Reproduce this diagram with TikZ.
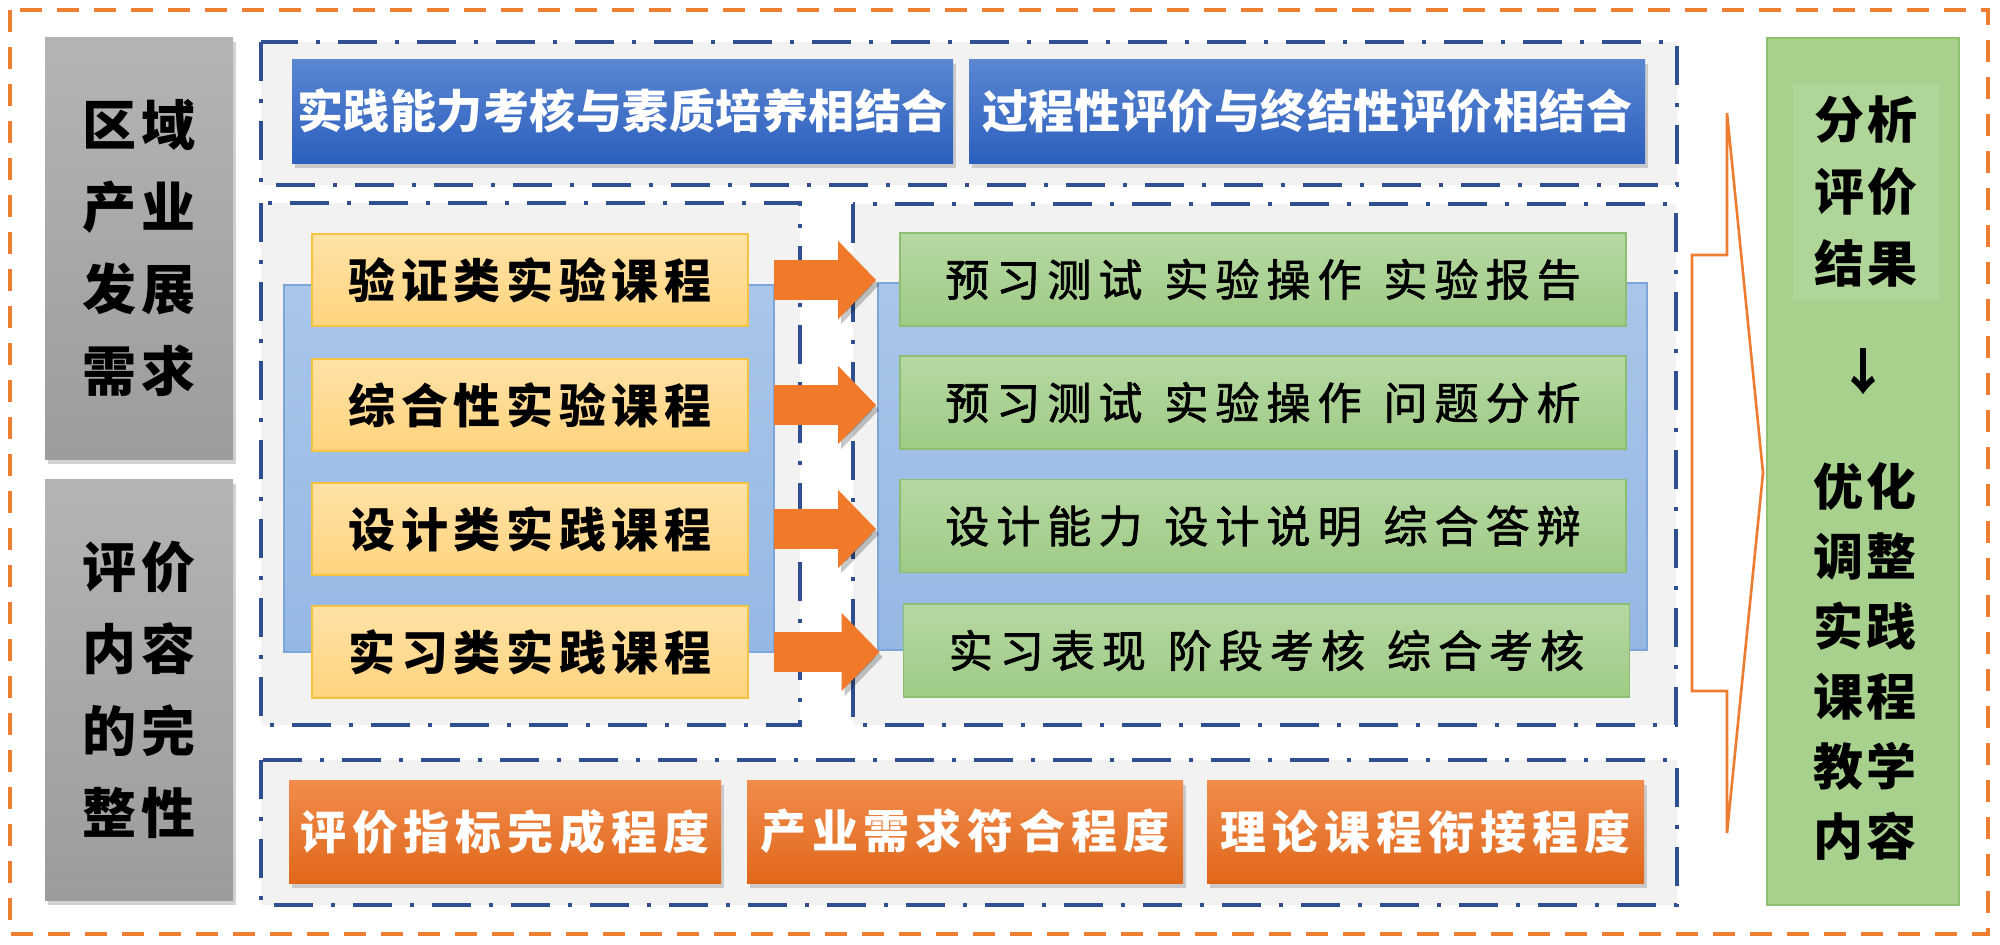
\documentclass[tikz,border=0pt]{standalone}
\usepackage{fontspec}
\setmainfont{Noto Sans CJK SC}
\newfontfamily\fntGray[LetterSpace=9]{Noto Sans CJK SC}
\newfontfamily\fntBlue[LetterSpace=1]{Noto Sans CJK SC}
\newfontfamily\fntYel[LetterSpace=12]{Noto Sans CJK SC}
\newfontfamily\fntGrn[LetterSpace=16,FakeBold=1.6]{Noto Sans CJK SC}
\newfontfamily\fntOra[LetterSpace=13]{Noto Sans CJK SC}
\newfontfamily\fntRgt[LetterSpace=6]{Noto Sans CJK SC}
\usetikzlibrary{shadows,arrows.meta}
\definecolor{frameOr}{HTML}{ED7D31}
\definecolor{contBlue}{HTML}{2F5090}
\definecolor{contFill}{HTML}{F2F2F2}
\definecolor{grayT}{HTML}{B4B4B4}
\definecolor{grayB}{HTML}{9C9C9C}
\definecolor{blueT}{HTML}{5B87D2}
\definecolor{blueB}{HTML}{2C5FBE}
\definecolor{yelT}{HTML}{FFE2A6}
\definecolor{yelB}{HTML}{FFD47E}
\definecolor{yelD}{HTML}{F5C242}
\definecolor{lbT}{HTML}{A9C6EA}
\definecolor{lbB}{HTML}{95B8E3}
\definecolor{lbD}{HTML}{7DA5D8}
\definecolor{grnT}{HTML}{B6D8A2}
\definecolor{grnB}{HTML}{9FCB86}
\definecolor{grnD}{HTML}{8CBD70}
\definecolor{orT}{HTML}{F18C4C}
\definecolor{orB}{HTML}{E0671A}
\definecolor{arrOr}{HTML}{F07A2A}
\definecolor{rgtFill}{HTML}{A9D18E}
\definecolor{rgtD}{HTML}{8EC070}
\definecolor{rgtIn}{HTML}{B0D598}
\newcommand{\gp}{\hspace{11pt}}
\begin{document}
\begin{tikzpicture}[x=0.5pt,y=-0.5pt,
  frame/.style={draw=frameOr, line width=2.4pt, dash pattern=on 11pt off 7.5pt},
  cont/.style={draw=contBlue, line width=1.8pt, dash pattern=on 19.5pt off 9pt on 2pt off 9pt, fill=contFill},
  lbbg/.style={draw=lbD, line width=0.8pt, top color=lbT, bottom color=lbB},
  shad/.style={drop shadow={opacity=0.35, shadow xshift=1.5pt, shadow yshift=-2.5pt}},
  graybox/.style={rectangle, shad, top color=grayT, bottom color=grayB, minimum width=94pt, inner sep=0pt, align=center, font=\fntGray\bfseries\fontsize{27pt}{41pt}\selectfont},
  bluebox/.style={rectangle, shad, top color=blueT, bottom color=blueB, minimum height=52pt, inner sep=0pt, text=white, font=\fntBlue\bfseries\fontsize{23pt}{28pt}\selectfont},
  yelbox/.style={rectangle, draw=yelD, line width=0.9pt, top color=yelT, bottom color=yelB, minimum width=218pt, minimum height=46pt, inner sep=0pt, font=\fntYel\bfseries\fontsize{23.5pt}{28pt}\selectfont},
  grnbox/.style={rectangle, draw=grnD, line width=0.9pt, top color=grnT, bottom color=grnB, minimum width=363pt, minimum height=46.5pt, inner sep=0pt, font=\fntGrn\fontsize{22pt}{26pt}\selectfont},
  orbox/.style={rectangle, shad, top color=orT, bottom color=orB, minimum height=51.5pt, inner sep=0pt, text=white, font=\fntOra\bfseries\fontsize{23pt}{28pt}\selectfont},
  fatarrow/.style={draw=arrOr, line width=20pt, -{Triangle[length=19pt,width=38pt]},
     preaction={draw=black, opacity=0.22, transform canvas={xshift=1.5pt,yshift=-2.5pt}}},
  bigarrow/.style={draw=frameOr, line width=1.3pt, line join=miter},
  rgtbox/.style={rectangle, draw=rgtD, line width=0.9pt, fill=rgtFill, minimum width=96pt, minimum height=433.5pt, inner sep=0pt},
  rgtinner/.style={rectangle, fill=rgtIn, minimum width=73pt, minimum height=108pt, inner sep=0pt, align=center, font=\fntRgt\bfseries\fontsize{25pt}{36pt}\selectfont},
  rgttext/.style={inner sep=0pt, align=center, font=\fntRgt\bfseries\fontsize{25pt}{35pt}\selectfont}
]
\useasboundingbox (0,0) rectangle (2000,944);
\fill[white] (0,0) rectangle (2000,944);
\draw[frame] (10,10) rectangle (1988,934);

% containers
\draw[cont] (261,42) rectangle (1677,185);
\draw[cont] (261,203) rectangle (800,725);
\draw[cont] (853,204) rectangle (1676,725);
\draw[cont] (261,760) rectangle (1677,905);

% light blue backgrounds
\draw[lbbg] (284,285) rectangle (774,652);
\draw[lbbg] (878,283) rectangle (1647,650);

% left gray boxes
\node[graybox, minimum height=211pt] (g1) at (139,248) {区域\\产业\\发展\\需求};
\node[graybox, minimum height=210.5pt] (g2) at (139,689.5) {评价\\内容\\的完\\整性};

% blue boxes
\node[bluebox, minimum width=330.5pt] (b1) at (622.5,111) {实践能力考核与素质培养相结合};
\node[bluebox, minimum width=338pt] (b2) at (1307,111) {过程性评价与终结性评价相结合};

% yellow course boxes
\node[yelbox] (y1) at (530,280) {验证类实验课程};
\node[yelbox] (y2) at (530,405) {综合性实验课程};
\node[yelbox] (y3) at (530,529) {设计类实践课程};
\node[yelbox] (y4) at (530,652) {实习类实践课程};

% green evaluation boxes
\node[grnbox] (r1) at (1263,279.5) {预习测试\gp 实验操作\gp 实验报告};
\node[grnbox] (r2) at (1263,402.5) {预习测试\gp 实验操作\gp 问题分析};
\node[grnbox] (r3) at (1263,526) {设计能力\gp 设计说明\gp 综合答辩};
\node[grnbox] (r4) at (1266.5,650.5) {实习表现\gp 阶段考核\gp 综合考核};

% arrows
\foreach \i in {1,...,4}
  \draw[fatarrow] ([xshift=12.5pt]y\i.east) -- ([xshift=-11.5pt]y\i.east -| r\i.west);

% orange boxes
\node[orbox, minimum width=216pt] (o1) at (505,831.5) {评价指标完成程度};
\node[orbox, minimum width=218pt] (o2) at (965,831.5) {产业需求符合程度};
\node[orbox, minimum width=218.5pt] (o3) at (1425.5,831.5) {理论课程衔接程度};

% big outline arrow
\draw[bigarrow] (1727,113) -- (1727,255) -- (1692,255) -- (1692,691) -- (1727,691) -- (1727,833) -- (1763,473) -- cycle;

% right result box
\node[rgtbox] (res) at (1863,471.5) {};
\node[rgtinner] (ana) at (1865.5,191.5) {分析\\评价\\结果};
\node[rgttext] (dn) at (1863,372) {↓};
\node[rgttext] (opt) at (1865,661) {优化\\调整\\实践\\课程\\教学\\内容};
\end{tikzpicture}
\end{document}
